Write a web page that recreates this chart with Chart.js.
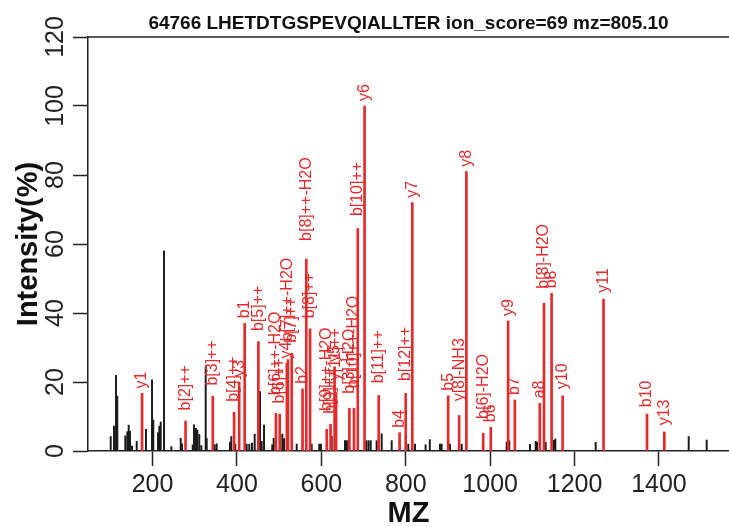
<!DOCTYPE html>
<html><head><meta charset="utf-8">
<script src="https://cdn.jsdelivr.net/npm/chart.js@4/dist/chart.umd.min.js"></script>
<style>html,body{margin:0;padding:0;background:#fff}canvas{display:block}</style>
</head><body>
<canvas id="c" width="729" height="527"></canvas>
<script>
const titleText = "64766 LHETDTGSPEVQIALLTER ion_score=69 mz=805.10";
const xTitle = "MZ";
const yTitle = "Intensity(%)";
const xTickValues = [200, 400, 600, 800, 1000, 1200, 1400];
const yTickValues = [0, 20, 40, 60, 80, 100, 120];

// matched fragment ions (red)
const matchedMz = [175.1, 278.2, 342.7, 393.2, 405.2, 418.3, 450.7, 492.3, 501.3, 518.3, 520.8, 529.8, 555.4, 564.3, 573.3, 612.8, 621.8, 631.4, 634.9, 666.4, 677.3, 686.3, 702.4, 735.9, 785.4, 799.9, 815.5, 900.5, 926.5, 943.6, 983.5, 1001.5, 1042.6, 1058.5, 1117.6, 1127.6, 1145.6, 1171.7, 1268.7, 1371.7, 1412.8];
const matchedIntensity = [16.7, 8.7, 15.9, 11.2, 20.0, 37.0, 31.7, 10.9, 10.7, 25.4, 26.5, 28.3, 18.0, 55.6, 35.4, 6.3, 7.7, 24.4, 17.0, 12.4, 12.4, 64.5, 100, 16.1, 5.3, 16.7, 72.0, 16.0, 10.3, 81.0, 5.1, 6.9, 37.7, 14.8, 13.8, 42.8, 45.7, 16.0, 44.0, 10.7, 5.5];
const matchedLabels = ["y1", "b[2]++", "b[3]++", "b[4]++", "y3", "b1", "b[5]++", "b[6]++-H2O", "b[6]++", "y4", "b[7]++-H2O", "b[7]++", "b2", "b[8]++-H2O", "b[8]++", "b[9]++-H2O", "b[9]++", "y5", "y[11]++", "b[3]-H2O", "b[10]++-H2O", "b[10]++", "y6", "b[11]++", "b4", "b[12]++", "y7", "b5", "y[8]-NH3", "y8", "b[6]-H2O", "b6", "y9", "b7", "a8", "b[8]-H2O", "b8", "y10", "y11", "b10", "y13"];

// unmatched peaks (black)
const otherMz = [100.8, 108.6, 113.4, 116.4, 135.4, 140.1, 143.4, 146.5, 151.3, 162.4, 184.4, 198.7, 201.7, 212.9, 216.0, 219.3, 227.1, 244.4, 266.7, 269.8, 295.1, 298.2, 302.9, 306.0, 310.7, 315.5, 325.9, 328.3, 347.2, 351.9, 383.5, 386.6, 396.0, 423.0, 429.2, 435.6, 442.0, 454.6, 458.6, 464.1, 483.7, 487.0, 507.4, 511.5, 541.6, 577.0, 595.0, 599.0, 624.5, 656.0, 660.0, 664.0, 707.0, 712.0, 717.0, 731.0, 743.0, 766.7, 786.0, 806.0, 821.9, 847.0, 857.0, 881.0, 885.0, 904.8, 932.6, 1039.2, 1045.4, 1094.4, 1107.9, 1111.0, 1131.6, 1151.3, 1154.4, 1250.1, 1470.5, 1513.1];
const otherIntensity = [4.2, 7.2, 21.9, 15.9, 4.4, 5.6, 7.5, 5.8, 1.4, 2.8, 6.3, 20.6, 9.0, 5.3, 7.2, 8.4, 58.0, 1.3, 3.7, 2.1, 1.8, 7.6, 6.6, 6.1, 4.8, 1.6, 24.7, 3.6, 1.8, 2.1, 2.6, 4.2, 2.0, 2.0, 2.0, 2.3, 4.9, 17.2, 2.8, 7.5, 1.8, 3.7, 4.9, 3.6, 2.0, 2.0, 2.0, 2.0, 4.3, 3.0, 3.0, 3.0, 3.0, 3.0, 3.0, 3.0, 5.0, 3.0, 2.0, 2.0, 2.0, 1.8, 3.3, 2.0, 2.0, 2.0, 2.0, 2.6, 3.0, 1.9, 2.8, 2.5, 2.5, 3.1, 3.5, 2.5, 4.2, 3.2];

const RED = '#e42a2a';
const AXIS = '#222222';
const FONT = "'Liberation Sans', Arial, Helvetica, sans-serif";

const redPts = matchedMz.map((m, i) => ({x: m, y: matchedIntensity[i]}));
const blackPts = otherMz.map((m, i) => ({x: m, y: otherIntensity[i]}));

const decor = {
  id: 'decor',
  afterDatasetsDraw(chart) {
    const ctx = chart.ctx;
    const meta = chart.getDatasetMeta(0);
    ctx.save();
    ctx.fillStyle = RED;
    ctx.font = "16px " + FONT;
    ctx.textAlign = 'left';
    ctx.textBaseline = 'middle';
    meta.data.forEach((el, i) => {
      const txt = matchedLabels[i];
      const w = ctx.measureText(txt).width;
      ctx.save();
      ctx.translate(el.x, el.y - 1.5 - 0.2 * w);
      ctx.rotate(-Math.PI / 2);
      ctx.fillText(txt, 0, 0);
      ctx.restore();
    });
    ctx.restore();
  },
  afterDraw(chart) {
    const ctx = chart.ctx;
    const a = chart.chartArea;
    const ys = chart.scales.y;
    ctx.save();
    ctx.strokeStyle = AXIS;
    ctx.lineWidth = 1.5;
    ctx.beginPath();
    ctx.moveTo(a.left, a.top);
    ctx.lineTo(chart.width, a.top);
    ctx.stroke();
    ctx.fillStyle = AXIS;
    ctx.font = "25px " + FONT;
    ctx.textAlign = 'center';
    ctx.textBaseline = 'alphabetic';
    yTickValues.forEach(v => {
      const py = ys.getPixelForValue(v);
      ctx.save();
      ctx.translate(63, py);
      ctx.rotate(-Math.PI / 2);
      ctx.fillText(String(v), 0, 0);
      ctx.restore();
    });
    ctx.font = "bold 19px " + FONT;
    ctx.fillStyle = '#111';
    ctx.fillText(titleText, (a.left + a.right) / 2, 29);
    ctx.font = "bold 29px " + FONT;
    ctx.fillText(xTitle, (a.left + a.right) / 2, 522);
    ctx.save();
    ctx.translate(37, (a.top + a.bottom) / 2);
    ctx.rotate(-Math.PI / 2);
    ctx.fillText(yTitle, 0, 0);
    ctx.restore();
    ctx.restore();
  }
};

new Chart(document.getElementById('c'), {
  type: 'bar',
  data: {
    datasets: [
      {data: redPts, backgroundColor: RED, barThickness: 2, grouped: false, order: 0},
      {data: blackPts, backgroundColor: '#1a1a1a', barThickness: 1.3, grouped: false, order: 1}
    ]
  },
  options: {
    responsive: false,
    animation: false,
    devicePixelRatio: 1,
    layout: {padding: {top: 37, left: 0, right: 0, bottom: 0}},
    plugins: {legend: {display: false}, title: {display: false}, tooltip: {enabled: false}},
    scales: {
      x: {
        type: 'linear', min: 47, max: 1566, offset: false,
        grid: {drawOnChartArea: false, drawTicks: true, tickLength: 15, tickColor: AXIS, tickWidth: 1.5, offset: false},
        border: {display: true, color: AXIS, width: 1.5},
        ticks: {color: AXIS, font: {size: 25, family: FONT}, padding: 4, maxRotation: 0, minRotation: 0, callback: v => String(v)},
        afterBuildTicks: s => { s.ticks = xTickValues.map(v => ({value: v})); },
        afterFit: s => { s.height = 76; }
      },
      y: {
        type: 'linear', min: 0, max: 120,
        grid: {drawOnChartArea: false, drawTicks: true, tickLength: 15, tickColor: AXIS, tickWidth: 1.5},
        border: {display: true, color: AXIS, width: 1.5},
        ticks: {display: false},
        afterBuildTicks: s => { s.ticks = yTickValues.map(v => ({value: v})); },
        afterFit: s => { s.width = 88; }
      }
    }
  },
  plugins: [decor]
});
</script>
</body></html>
